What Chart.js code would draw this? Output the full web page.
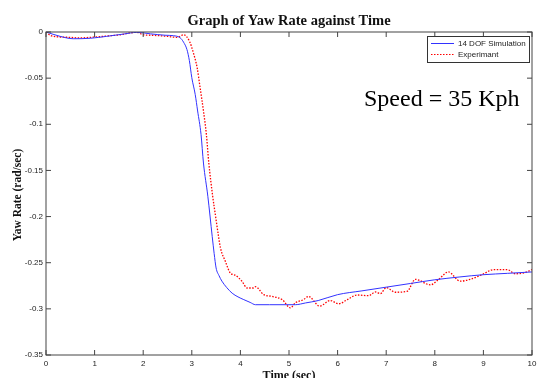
<!DOCTYPE html>
<html>
<head>
<meta charset="utf-8">
<script src="https://cdn.jsdelivr.net/npm/chart.js@4.4.1/dist/chart.umd.min.js"></script>
<style>
  html, body { margin: 0; padding: 0; background: #fff; }
  #wrap { width: 537px; height: 378px; }
</style>
</head>
<body>
<div id="wrap"><canvas id="yawChart" width="537" height="378"></canvas></div>
<script>
// tick labels
const xTicks = [0, 1, 2, 3, 4, 5, 6, 7, 8, 9, 10];
const yTicks = [0, -0.05, -0.1, -0.15, -0.2, -0.25, -0.3, -0.35];

// 14 DOF simulation
const simTime = [0, 0.29, 0.56, 0.91, 1.25, 1.6, 1.87, 2.15, 2.45, 2.62, 2.76, 2.83, 2.9, 2.95, 3.0, 3.07, 3.12, 3.19, 3.24, 3.33, 3.42, 3.46, 3.5, 3.56, 3.62, 3.72, 3.83, 3.95, 4.07, 4.2, 4.31, 4.6, 5.0, 5.13, 5.34, 5.6, 6.0, 6.5, 7.0, 7.5, 8.0, 8.5, 9.0, 9.5, 10];
const simRate = [0, -0.0047, -0.0073, -0.0068, -0.0047, -0.0022, -0.0004, -0.002, -0.0035, -0.004, -0.0062, -0.011, -0.019, -0.031, -0.0495, -0.0676, -0.0856, -0.111, -0.142, -0.178, -0.2215, -0.240, -0.2557, -0.264, -0.270, -0.277, -0.283, -0.287, -0.290, -0.293, -0.2955, -0.2955, -0.2955, -0.2955, -0.2936, -0.291, -0.2846, -0.2805, -0.2765, -0.2725, -0.2685, -0.2655, -0.263, -0.2615, -0.260];

// experiment
const expTime = [0, 0.09, 0.29, 0.5, 0.7, 0.91, 1.12, 1.32, 1.53, 1.73, 1.87, 2.0, 2.21, 2.49, 2.7, 2.83, 2.95, 3.04, 3.11, 3.17, 3.24, 3.3, 3.35, 3.43, 3.49, 3.55, 3.59, 3.69, 3.79, 3.9, 4.03, 4.14, 4.27, 4.31, 4.48, 4.65, 4.86, 5.03, 5.13, 5.3, 5.4, 5.63, 5.85, 6.02, 6.2, 6.4, 6.64, 6.78, 6.88, 7.0, 7.19, 7.43, 7.6, 7.91, 8.08, 8.28, 8.52, 8.73, 8.97, 9.21, 9.49, 9.66, 9.83, 10];
const expRate = [0, -0.0036, -0.0054, -0.0058, -0.0065, -0.0058, -0.005, -0.004, -0.003, -0.001, -0.0003, -0.003, -0.0036, -0.0047, -0.0058, -0.003, -0.0098, -0.024, -0.0387, -0.060, -0.0856, -0.111, -0.142, -0.178, -0.200, -0.2215, -0.234, -0.2485, -0.261, -0.2637, -0.270, -0.2774, -0.2774, -0.276, -0.2846, -0.2865, -0.290, -0.299, -0.2935, -0.290, -0.2865, -0.297, -0.291, -0.2945, -0.290, -0.285, -0.2857, -0.2817, -0.2835, -0.277, -0.282, -0.281, -0.268, -0.274, -0.268, -0.260, -0.270, -0.268, -0.263, -0.2575, -0.2575, -0.262, -0.261, -0.2575];

const simColor = 'rgb(50,50,255)';
const expColor = 'rgb(255,0,0)';

const toPoints = (xs, ys) => xs.map((x, i) => ({ x: x, y: ys[i] }));

// matlab style box, inward ticks, legend and texts
const matlabFrame = {
    id: 'matlabFrame',
    afterDraw(chart) {
        const ctx = chart.ctx;
        const a = chart.chartArea;
        const xs = chart.scales.x;
        const ys = chart.scales.y;
        const tl = 5;

        ctx.save();
        ctx.strokeStyle = '#444';
        ctx.lineWidth = 1;
        ctx.strokeRect(a.left, a.top, a.right - a.left, a.bottom - a.top);

        ctx.beginPath();
        xTicks.forEach(v => {
            const px = xs.getPixelForValue(v);
            ctx.moveTo(px, a.bottom); ctx.lineTo(px, a.bottom - tl);
            ctx.moveTo(px, a.top); ctx.lineTo(px, a.top + tl);
        });
        yTicks.forEach(v => {
            const py = ys.getPixelForValue(v);
            ctx.moveTo(a.left, py); ctx.lineTo(a.left + tl, py);
            ctx.moveTo(a.right, py); ctx.lineTo(a.right - tl, py);
        });
        ctx.stroke();

        // legend
        const lx = 427, ly = 36, lw = 102, lh = 26;
        ctx.fillStyle = '#fff';
        ctx.fillRect(lx, ly, lw, lh);
        ctx.strokeStyle = '#333';
        ctx.strokeRect(lx + 0.5, ly + 0.5, lw, lh);

        ctx.lineWidth = 1;
        ctx.strokeStyle = simColor;
        ctx.beginPath(); ctx.moveTo(431, 43.5); ctx.lineTo(454, 43.5); ctx.stroke();
        ctx.strokeStyle = expColor;
        ctx.setLineDash([1.5, 1.5]);
        ctx.beginPath(); ctx.moveTo(431, 54.5); ctx.lineTo(454, 54.5); ctx.stroke();
        ctx.setLineDash([]);

        ctx.fillStyle = '#222';
        ctx.font = '8px "Liberation Sans", Arial, sans-serif';
        ctx.textBaseline = 'middle';
        ctx.textAlign = 'left';
        ctx.fillText('14 DOF Simulation', 458, 44);
        ctx.fillText('Experimant', 458, 55);

        // title and axis labels
        ctx.fillStyle = '#111';
        ctx.textBaseline = 'alphabetic';
        ctx.textAlign = 'center';
        const midX = (a.left + a.right) / 2;
        ctx.font = 'bold 14.5px "Liberation Serif", "Times New Roman", serif';
        ctx.fillText('Graph of Yaw Rate against Time', midX, 25);

        ctx.font = 'bold 12px "Liberation Serif", "Times New Roman", serif';
        ctx.fillText('Time (sec)', midX, 379);

        ctx.save();
        ctx.translate(20.5, 195);
        ctx.rotate(-Math.PI / 2);
        ctx.font = 'bold 11.5px "Liberation Serif", "Times New Roman", serif';
        ctx.fillText('Yaw Rate (rad/sec)', 0, 0);
        ctx.restore();

        ctx.textAlign = 'left';
        ctx.fillStyle = '#000';
        ctx.font = '24px "Liberation Serif", "Times New Roman", serif';
        ctx.fillText('Speed = 35 Kph', 364, 106);
        ctx.restore();
    }
};

new Chart(document.getElementById('yawChart'), {
    type: 'line',
    data: {
        datasets: [
            {
                label: '14 DOF Simulation',
                data: toPoints(simTime, simRate),
                borderColor: simColor,
                borderWidth: 1,
                pointRadius: 0,
                cubicInterpolationMode: 'monotone'
            },
            {
                label: 'Experimant',
                data: toPoints(expTime, expRate),
                borderColor: expColor,
                borderWidth: 1.3,
                borderDash: [1.5, 1.5],
                pointRadius: 0,
                cubicInterpolationMode: 'monotone'
            }
        ]
    },
    options: {
        responsive: false,
        animation: false,
        events: [],
        layout: { padding: { top: 32, right: 5, left: 0, bottom: 0 } },
        plugins: {
            legend: { display: false },
            title: { display: false },
            tooltip: { enabled: false }
        },
        scales: {
            x: {
                type: 'linear',
                min: 0,
                max: 10,
                grid: { display: false, drawTicks: false },
                border: { display: false },
                afterBuildTicks: s => { s.ticks = xTicks.map(v => ({ value: v })); },
                afterFit: s => { s.height = 23; s.paddingLeft = 0; s.paddingRight = 0; },
                ticks: {
                    padding: 4,
                    color: '#222',
                    font: { family: '"Liberation Sans", Arial, sans-serif', size: 8 },
                    maxRotation: 0,
                    callback: v => String(v)
                }
            },
            y: {
                type: 'linear',
                min: -0.35,
                max: 0,
                grid: { display: false, drawTicks: false },
                border: { display: false },
                afterBuildTicks: s => { s.ticks = yTicks.map(v => ({ value: v })); },
                afterFit: s => { s.width = 46; s.paddingTop = 0; s.paddingBottom = 0; },
                ticks: {
                    padding: 3,
                    color: '#222',
                    font: { family: '"Liberation Sans", Arial, sans-serif', size: 8 },
                    callback: v => String(+Number(v).toFixed(2))
                }
            }
        }
    },
    plugins: [matlabFrame]
});
</script>
</body>
</html>
